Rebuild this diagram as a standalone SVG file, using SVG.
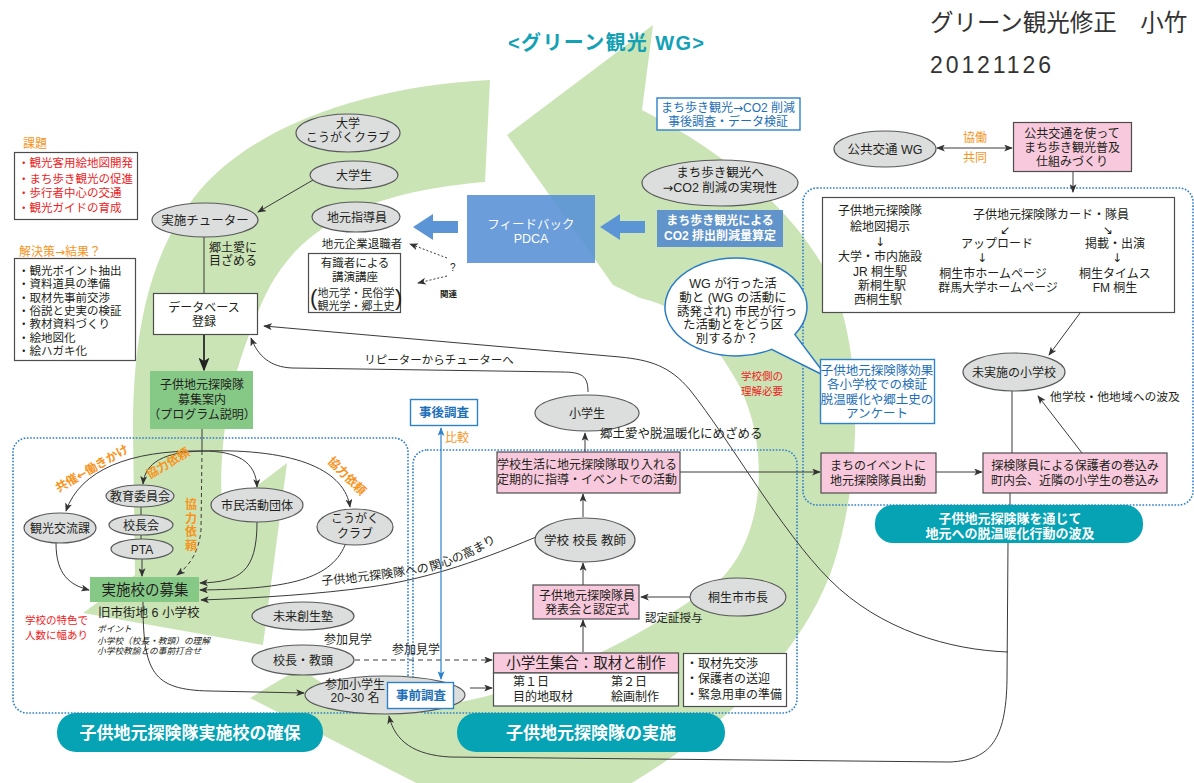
<svg xmlns="http://www.w3.org/2000/svg" width="1194" height="783" viewBox="0 0 1194 783">
<defs>
<style>
text{font-family:"Liberation Sans","Noto Sans CJK JP",sans-serif;font-size:12px;fill:#231f20}
.j{font-family:"DejaVu Sans",sans-serif}
.c{text-anchor:middle}
.el{fill:#dcdddd;stroke:#58595b;stroke-width:1.2}
.bx{fill:#fff;stroke:#4d4d4d;stroke-width:1.2}
.pk{fill:#f8c9dc;stroke:#4d4d4d;stroke-width:1.2}
.gb{fill:#86c987}
.ln{fill:none;stroke:#3a3a3a;stroke-width:1}
.dl{fill:none;stroke:#2e7fcd;stroke-width:1.6;stroke-dasharray:1.6 1.6}
.bl{fill:#fff;stroke:#2e82cc;stroke-width:1.4}
.bt{fill:#1d6fb8}
.or{fill:#f7941d}
.rd{fill:#ed1c24}
.wt{fill:#fff;font-weight:bold}
.pill{fill:#06a3b4}
.green{fill:#cbe4b5}
</style>
<marker id="a" viewBox="0 0 10 8" refX="9" refY="4" markerWidth="9" markerHeight="7" markerUnits="userSpaceOnUse" orient="auto-start-reverse"><path d="M0,0 L10,4 L0,8 L2.5,4 Z" fill="#333"/></marker>
<marker id="ab" viewBox="0 0 10 8" refX="9" refY="4" markerWidth="14" markerHeight="11" markerUnits="userSpaceOnUse" orient="auto"><path d="M0,0 L10,4 L0,8 L2.5,4 Z" fill="#222"/></marker>
<marker id="abl" viewBox="0 0 10 8" refX="9" refY="4" markerWidth="9" markerHeight="7" markerUnits="userSpaceOnUse" orient="auto-start-reverse"><path d="M0,0 L10,4 L0,8 L2.5,4 Z" fill="#2e82cc"/></marker>
</defs>

<g id="background-cycle">
<path class="green" d="M490,80 C380,85 260,120 200,190 C150,250 133,330 133,430 L135,575 L83,613 L263,645 L287,463 L222,512 C218,440 230,380 255,320 C280,250 330,195 485,182 Z"/>
<path class="green" d="M507,135 L653,25 L642,110 C720,150 800,210 835,290 C862,360 862,470 835,560 C810,640 740,720 620,790 L430,790 L250,698 L300,668 C330,690 360,708 420,708 C520,700 640,640 720,580 C770,530 770,430 730,370 C700,320 670,305 640,298 L613,285 Z"/>
</g>

<g id="frames">
<rect class="dl" x="13" y="438" width="395" height="275" rx="14"/>
<rect class="dl" x="413" y="450" width="384" height="263" rx="14"/>
<rect class="dl" x="803" y="188" width="390" height="317" rx="14"/>
</g>

<g id="connectors">
<path class="ln" d="M313,180 L258,212" marker-end="url(#a)"/>
<path class="ln" d="M204,237 L204,293"/>
<path class="ln" d="M204,335 L204,370" style="stroke-width:2" marker-end="url(#ab)"/>
<path class="ln" d="M202,428 L202,451"/>
<path class="ln" d="M202,451 C130,450 80,470 66,511" marker-end="url(#a)"/>
<path class="ln" d="M202,451 C165,452 145,462 143,484" marker-end="url(#a)"/>
<path class="ln" d="M202,451 C238,451 256,462 257,487" marker-end="url(#a)"/>
<path class="ln" d="M202,451 C300,448 345,472 350,507" marker-end="url(#a)"/>
<path class="ln" d="M202,451 L201,530 C199,552 190,565 177,575" style="stroke-dasharray:4 3" marker-end="url(#a)"/>
<path class="ln" d="M141,507 L141,516 M141,535 L141,540"/>
<path class="ln" d="M142,559 L142,576" marker-end="url(#a)"/>
<path class="ln" d="M56,543 C56,575 70,585 89,590" marker-end="url(#a)"/>
<path class="ln" d="M257,522 C257,572 240,582 200,583" marker-end="url(#a)"/>
<path class="ln" d="M345,545 C330,582 280,589 200,590" marker-end="url(#a)"/>
<path class="ln" d="M536,537 C470,565 420,580 370,587 C320,594 260,598 201,600" marker-end="url(#a)"/>
<path class="ln" d="M143,602 C143,672 152,690 210,691 L304,693" marker-end="url(#a)"/>
<path class="ln" d="M355,660 L492,660" style="stroke-dasharray:5 4" marker-end="url(#a)"/>
<path class="ln" d="M470,688 L492,688" marker-end="url(#a)"/>
<path d="M441,428 L441,679" fill="none" stroke="#2e82cc" stroke-width="1.2" marker-start="url(#abl)" marker-end="url(#abl)"/>
<path class="ln" d="M583,652 L583,620" marker-end="url(#a)"/>
<path class="ln" d="M691,597 L641,597" marker-end="url(#a)"/>
<path class="ln" d="M583,585 L583,563" marker-end="url(#a)"/>
<path class="ln" d="M583,517 L583,494" marker-end="url(#a)"/>
<path class="ln" d="M585,452 L585,433" marker-end="url(#a)"/>
<path class="ln" d="M588,392 C588,376 582,372 562,372 L292,368 C270,367 258,356 251,338" marker-end="url(#a)"/>
<path class="ln" d="M680,472 L820,472" marker-end="url(#a)"/>
<path class="ln" d="M936,472 L982,472" marker-end="url(#a)"/>
<path class="ln" d="M1082,453 L1038,396" marker-end="url(#a)"/>
<path class="ln" d="M1080,313 L1049,355" marker-end="url(#a)"/>
<path class="ln" d="M1012,391 L1012,453" stroke="#777"/>
<path class="ln" d="M1010,493 L1010,506"/>
<path class="ln" d="M1008,543 L1007,680 C1006,740 990,760 950,762 L450,757 C415,755 395,742 389,716" marker-end="url(#a)"/>
<path class="ln" d="M1008,652 C950,650 880,630 830,580 C780,530 730,440 690,390 C670,366 650,360 620,357 L264,326" marker-end="url(#a)"/>
<path class="ln" d="M937,148 L1012,148" marker-start="url(#a)" marker-end="url(#a)"/>
<path class="ln" d="M1073,172 L1073,192" marker-end="url(#a)"/>
<path class="ln" d="M447,258 L410,244" style="stroke-dasharray:2 2" marker-end="url(#a)"/>
<path class="ln" d="M447,276 L418,283" style="stroke-dasharray:2 2" marker-end="url(#a)"/>
<polygon points="413,227 433,214 433,221 458,221 458,233 433,233 433,240" fill="#5b95d5"/>
<polygon points="600,227 620,214 620,221 645,221 645,233 620,233 620,240" fill="#5b95d5"/>
</g>

<g id="title">
<text class="c" x="606" y="50" textLength="196" style="font-size:20px;font-weight:bold;fill:#13a1b5">&lt;グリーン観光 WG&gt;</text>
<text x="930" y="31" style="font-size:23.5px;fill:#333">グリーン観光修正　小竹</text>
<text x="930" y="73" textLength="121" style="font-size:23px;fill:#333">20121126</text>
</g>

<g id="n-kadai">
<text class="or" x="23" y="148">課題</text>
<rect class="bx" x="14.5" y="152.5" width="123" height="67"/>
<text class="rd" style="font-size:11.5px"><tspan x="18" y="167">・観光客用絵地図開発</tspan><tspan x="18" y="182.5">・まち歩き観光の促進</tspan><tspan x="18" y="197">・歩行者中心の交通</tspan><tspan x="18" y="212">・観光ガイドの育成</tspan></text>
</g>
<g id="n-kaiketsu">
<text class="or" x="19" y="256">解決策<tspan class="j">→</tspan>結果？</text>
<rect class="bx" x="14.5" y="258.5" width="121" height="102"/>
<text style="font-size:11.5px"><tspan x="18" y="275">・観光ポイント抽出</tspan><tspan x="18" y="288.3">・資料道具の準備</tspan><tspan x="18" y="301.6">・取材先事前交渉</tspan><tspan x="18" y="314.9">・俗説と史実の検証</tspan><tspan x="18" y="328.2">・教材資料づくり</tspan><tspan x="18" y="341.5">・絵地図化</tspan><tspan x="18" y="354.8">・絵ハガキ化</tspan></text>
</g>

<g id="n-daigaku-club"><ellipse class="el" cx="348" cy="133" rx="52" ry="19"/><text class="c"><tspan x="348" y="128">大学</tspan><tspan x="348" y="142">こうがくクラブ</tspan></text></g>
<g id="n-daigakusei"><ellipse class="el" cx="354" cy="175" rx="44" ry="14"/><text class="c" x="354" y="179.5">大学生</text></g>
<g id="n-tutor"><ellipse class="el" cx="205" cy="220" rx="53" ry="17"/><text class="c" x="205" y="224.5" style="font-size:12.5px">実施チューター</text></g>
<g id="n-kyodoai"><text><tspan x="209" y="251.5">郷土愛に</tspan><tspan x="209" y="265">目ざめる</tspan></text></g>
<g id="n-shidoin"><ellipse class="el" cx="356" cy="217" rx="44" ry="15"/><text class="c" x="357" y="221.5">地元指導員</text></g>
<g id="n-taishoku"><text class="c" x="362" y="247.5" style="font-size:11.5px">地元企業退職者</text></g>
<g id="n-koza">
<rect class="bx" x="308.5" y="253.5" width="92" height="59"/>
<text class="c" style="font-size:11.5px"><tspan x="355" y="267">有識者による</tspan><tspan x="355" y="280.5">講演講座</tspan><tspan x="356" y="297" style="font-size:11px">地元学・民俗学</tspan><tspan x="356" y="309.5" style="font-size:11px">観光学・郷土史</tspan></text>
<text style="font-size:22px"><tspan x="310" y="305">(</tspan><tspan x="395" y="305">)</tspan></text>
</g>
<g id="n-q"><text style="font-size:10px"><tspan x="450" y="271">?</tspan><tspan x="440" y="297" style="font-size:8.5px;font-weight:bold">関連</tspan></text></g>
<g id="n-db"><rect class="bx" x="153.5" y="293.5" width="104" height="41"/><text class="c"><tspan x="204" y="312">データベース</tspan><tspan x="204" y="326">登録</tspan></text></g>
<g id="n-boshu"><rect class="gb" x="150" y="371" width="103" height="58"/><text class="c"><tspan x="202" y="389">子供地元探険隊</tspan><tspan x="202" y="404">募集案内</tspan><tspan x="202" y="419">（プログラム説明）</tspan></text></g>
<g id="n-repeater"><text class="c" x="439" y="364" style="font-size:11.5px">リピーターからチューターへ</text></g>

<g id="n-feedback"><rect x="467" y="195" width="128" height="68" fill="#5a92d6" opacity="0.9"/><text class="c" style="fill:#fff;font-size:12.5px"><tspan x="531" y="228.5">フィードバック</tspan><tspan x="531" y="242.5">PDCA</tspan></text></g>
<g id="n-co2calc"><rect x="657" y="210" width="126" height="37" fill="#5b8fcb" opacity="0.95"/><text class="c wt"><tspan x="720" y="224.5">まち歩き観光による</tspan><tspan x="720" y="239.5">CO2 排出削減量算定</tspan></text></g>
<g id="n-co2check"><rect class="bl" x="657" y="98" width="143" height="32"/><text class="c bt"><tspan x="728" y="111.5">まち歩き観光<tspan class="j">→</tspan>CO2 削減</tspan><tspan x="728" y="126">事後調査・データ検証</tspan></text></g>
<g id="n-co2feas"><ellipse class="el" cx="720" cy="183" rx="78" ry="23"/><text class="c" style="font-size:12.5px"><tspan x="720" y="176.5">まち歩き観光へ</tspan><tspan x="720" y="191.5"><tspan class="j">→</tspan>CO2 削減の実現性</tspan></text></g>

<g id="n-bubble">
<path d="M794.8,334.4 A71,49 0 1,0 771.5,349.4 L827,377 Z" fill="#fff" stroke="#2a7cc7" stroke-width="1.5"/>
<text class="c" style="font-size:12.5px"><tspan x="733" y="288">WG が行った活</tspan><tspan x="733" y="301.8">動と (WG の活動に</tspan><tspan x="737" y="315.6">誘発され) 市民が行っ</tspan><tspan x="733" y="329.4">た活動とをどう区</tspan><tspan x="727" y="343.2">別するか？</tspan></text>
</g>
<g id="n-rikai"><text class="c rd" style="font-size:10.5px"><tspan x="762" y="380">学校側の</tspan><tspan x="762" y="395">理解必要</tspan></text></g>

<g id="n-kokyo"><ellipse class="el" cx="885" cy="149" rx="51" ry="18"/><text class="c" x="885" y="153.5" style="font-size:12.5px">公共交通 WG</text></g>
<g id="n-kyodo"><text class="c or"><tspan x="975" y="142">協働</tspan><tspan x="975" y="162">共同</tspan></text></g>
<g id="n-shikumi"><rect class="pk" x="1013.5" y="122.5" width="118" height="49"/><text class="c"><tspan x="1072" y="137.5">公共交通を使って</tspan><tspan x="1072" y="151.5">まち歩き観光普及</tspan><tspan x="1072" y="165.5">仕組みづくり</tspan></text></g>

<g id="n-keiji">
<rect class="bx" x="822.5" y="197.5" width="352" height="115"/>
<text class="c"><tspan x="880" y="214.5">子供地元探険隊</tspan><tspan x="880" y="231">絵地図掲示</tspan><tspan x="880" y="246" class="j">↓</tspan><tspan x="880" y="261">大学・市内施設</tspan><tspan x="880" y="275.5">JR 桐生駅</tspan><tspan x="882" y="289.5">新桐生駅</tspan><tspan x="878" y="304">西桐生駅</tspan></text>
<text class="c"><tspan x="1051" y="219">子供地元探険隊カード・隊員</tspan><tspan x="1005" y="233.5" class="j">↙</tspan><tspan x="1108" y="233.5" class="j">↘</tspan><tspan x="997" y="247.5">アップロード</tspan><tspan x="1115" y="247.5">掲載・出演</tspan><tspan x="982" y="262" class="j">↓</tspan><tspan x="1117" y="262" class="j">↓</tspan><tspan x="993" y="277.5">桐生市ホームページ</tspan><tspan x="1115" y="277.5">桐生タイムス</tspan><tspan x="998" y="292">群馬大学ホームページ</tspan><tspan x="1115" y="292">FM 桐生</tspan></text>
</g>

<g id="n-koka"><rect class="bl" x="820.5" y="359.5" width="114" height="64"/><text class="c bt" style="font-size:12.5px"><tspan x="877" y="375">子供地元探険隊効果</tspan><tspan x="877" y="389">各小学校での検証</tspan><tspan x="877" y="403.5">脱温暖化や郷土史の</tspan><tspan x="877" y="418">アンケート</tspan></text></g>
<g id="n-mijisshi"><ellipse class="el" cx="1014" cy="372" rx="51" ry="19"/><text class="c" x="1014" y="376.5">未実施の小学校</text></g>
<g id="n-hakyu-label"><text class="c" x="1115" y="401" style="font-size:11.8px">他学校・他地域への波及</text></g>
<g id="n-event"><rect class="pk" x="821" y="453" width="115" height="40"/><text class="c"><tspan x="878" y="470">まちのイベントに</tspan><tspan x="878" y="485">地元探険隊員出動</tspan></text></g>
<g id="n-makikomi"><rect class="pk" x="983" y="453" width="184" height="40"/><text class="c"><tspan x="1075" y="470">探検隊員による保護者の巻込み</tspan><tspan x="1075" y="485">町内会、近隣の小学生の巻込み</tspan></text></g>
<g id="n-pill-hakyu"><rect class="pill" x="875" y="505" width="268" height="38" rx="18"/><text class="c wt" style="font-size:13px"><tspan x="1010" y="522.5">子供地元探険隊を通じて</tspan><tspan x="1010" y="537.5">地元への脱温暖化行動の波及</tspan></text></g>

<g id="n-jigo"><rect class="bl" x="410.5" y="399.5" width="67" height="26"/><text class="c bt" x="444" y="417" style="font-weight:bold;font-size:12.5px">事後調査</text></g>
<g id="n-hikaku"><text class="or" x="445" y="442">比較</text></g>
<g id="n-shogakusei"><ellipse class="el" cx="587" cy="413" rx="52" ry="18"/><text class="c" x="587" y="417.5">小学生</text></g>
<g id="n-mezameru"><text x="600" y="437.5" style="font-size:12.5px">郷土愛や脱温暖化にめざめる</text></g>
<g id="n-gakko-seikatsu"><rect class="pk" x="497" y="452" width="183" height="41"/><text class="c"><tspan x="587" y="469">学校生活に地元探険隊取り入れる</tspan><tspan x="587" y="484">定期的に指導・イベントでの活動</tspan></text></g>
<g id="n-kyoshi"><ellipse class="el" cx="585" cy="540" rx="50" ry="22"/><text class="c" x="585" y="544.5" style="font-size:12.5px">学校 校長 教師</text></g>
<g id="n-happyo"><rect class="pk" x="533" y="585" width="106" height="34"/><text class="c"><tspan x="587" y="599.5">子供地元探険隊員</tspan><tspan x="587" y="613.5">発表会と認定式</tspan></text></g>
<g id="n-shicho"><ellipse class="el" cx="738" cy="597" rx="48" ry="19"/><text class="c" x="738" y="601.5">桐生市市長</text></g>
<g id="n-ninteisho"><text x="645" y="621.5" style="font-size:11.5px">認定証授与</text></g>
<g id="n-shugo">
<rect class="pk" x="493.5" y="653" width="185" height="20"/>
<text class="c" x="586" y="668" style="font-size:14.5px">小学生集合：取材と制作</text>
<rect class="bx" x="493.5" y="673" width="185" height="33"/>
<text><tspan x="513" y="685.5">第１日</tspan><tspan x="513" y="700.5">目的地取材</tspan><tspan x="611" y="685.5">第２日</tspan><tspan x="611" y="700.5">絵画制作</tspan></text>
</g>
<g id="n-junbi"><rect class="bx" x="683.5" y="653.5" width="103" height="53"/><text><tspan x="686" y="667.5">・取材先交渉</tspan><tspan x="686" y="683">・保護者の送迎</tspan><tspan x="686" y="698.5">・緊急用車の準備</tspan></text></g>
<g id="n-pill-jisshi"><rect class="pill" x="457" y="713" width="268" height="39" rx="19"/><text class="c wt" x="591" y="739" style="font-size:17px">子供地元探険隊の実施</text></g>

<g id="n-kanko"><ellipse class="el" cx="60" cy="528" rx="36" ry="15"/><text class="c" x="60" y="532.5">観光交流課</text></g>
<g id="n-kyoiku"><ellipse class="el" cx="140" cy="496" rx="34" ry="11"/><text class="c" x="140" y="500.5">教育委員会</text></g>
<g id="n-kochokai"><ellipse class="el" cx="141" cy="525" rx="32" ry="10"/><text class="c" x="141" y="529.5">校長会</text></g>
<g id="n-pta"><ellipse class="el" cx="142" cy="549" rx="31" ry="10"/><text class="c" x="142" y="553.5">PTA</text></g>
<g id="n-shimin"><ellipse class="el" cx="257" cy="505" rx="46" ry="17"/><text class="c" x="257" y="509.5">市民活動団体</text></g>
<g id="n-kogaku"><ellipse class="el" cx="355" cy="527" rx="38" ry="18"/><text class="c"><tspan x="355" y="522.5">こうがく</tspan><tspan x="355" y="537.5">クラブ</tspan></text></g>
<g id="n-labels-kyoryoku">
<text class="or" transform="translate(94,472) rotate(-30)" text-anchor="middle" style="font-weight:bold">共催<tspan class="j">←</tspan>働きかけ</text>
<text class="or" transform="translate(170,467) rotate(-31)" text-anchor="middle" style="font-weight:bold">協力依頼</text>
<text class="or" transform="translate(344,479) rotate(45)" text-anchor="middle" style="font-weight:bold">協力依頼</text>
<text class="or c" style="font-weight:bold"><tspan x="191" y="509">協</tspan><tspan x="191" y="522.5">力</tspan><tspan x="191" y="536">依</tspan><tspan x="191" y="549.5">頼</tspan></text>
</g>
<g id="n-kanshin">
<path id="kp1" d="M322,585 C350,583 400,577 431,571" fill="none"/>
<path id="kp2" d="M431,571 C455,564 478,554 500,539" fill="none"/>
<text style="font-size:12px"><textPath href="#kp1">子供地元探険隊への</textPath></text>
<text style="font-size:12px"><textPath href="#kp2">関心の高まり</textPath></text>
</g>
<g id="n-bosyu-school"><rect class="gb" x="90" y="577" width="109" height="25"/><text class="c" x="145" y="595" style="font-size:14.5px">実施校の募集</text></g>
<g id="n-kyushigai"><text x="98" y="616.5" style="font-size:12.5px">旧市街地 6 小学校</text></g>
<g id="n-tokushoku"><text class="rd" style="font-size:10.5px"><tspan x="25" y="624">学校の特色で</tspan><tspan x="25" y="639">人数に幅あり</tspan></text></g>
<g id="n-point"><text style="font-size:8.7px;font-style:italic"><tspan x="97" y="632">ポイント</tspan><tspan x="97" y="643.5">小学校（校長・教頭）の理解</tspan><tspan x="97" y="654">小学校教諭との事前打合せ</tspan></text></g>
<g id="n-mirai"><ellipse class="el" cx="303" cy="616" rx="51" ry="14"/><text class="c" x="303" y="620.5">未来創生塾</text></g>
<g id="n-kengaku"><text class="c"><tspan x="348" y="644">参加見学</tspan><tspan x="416" y="654">参加見学</tspan></text></g>
<g id="n-kocho"><ellipse class="el" cx="303" cy="660" rx="51" ry="15"/><text class="c" x="303" y="664.5">校長・教頭</text></g>
<g id="n-sanka"><ellipse class="el" cx="385" cy="695" rx="80" ry="19"/><text class="c"><tspan x="355" y="688.5">参加小学生</tspan><tspan x="355" y="702">20~30 名</tspan></text></g>
<g id="n-jizen"><rect class="bl" x="387.5" y="682.5" width="66" height="26"/><text class="c bt" x="421" y="700" style="font-weight:bold;font-size:12.5px">事前調査</text></g>
<g id="n-pill-kakuho"><rect class="pill" x="57" y="713" width="266" height="39" rx="19"/><text class="c wt" x="190" y="739" style="font-size:17px">子供地元探険隊実施校の確保</text></g>
</svg>
